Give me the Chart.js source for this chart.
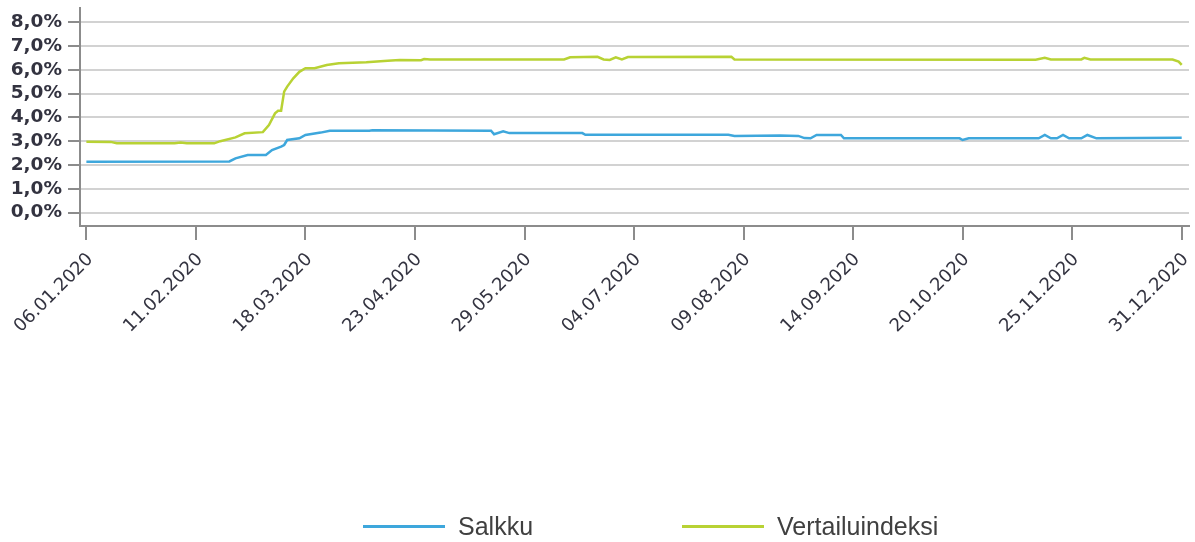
<!DOCTYPE html>
<html>
<head>
<meta charset="utf-8">
<script src="https://cdn.jsdelivr.net/npm/chart.js@4.4.0/dist/chart.umd.min.js"></script>
<style>
  body { margin: 0; background: #fff; }
  #wrap { position: relative; width: 1195px; height: 542px; }
  #legend { position: absolute; left: 363px; top: 512px; display: flex; align-items: center;
    font-family: "Liberation Sans", Arial, sans-serif; font-size: 25px; color: #404040; }
  .item { display: flex; align-items: center; margin-right: 149px; }
  .swatch { width: 82px; height: 3px; margin-right: 13px; }
</style>
</head>
<body>
<div id="wrap">
  <canvas id="myChart" width="1195" height="542"></canvas>
  <div id="legend"></div>
</div>
<script>
'use strict';

// days counted from 06.01.2020
let tick_days = [0, 36, 72, 108, 144, 180, 216, 252, 288, 324, 360];
let y_ticks = [0, 1, 2, 3, 4, 5, 6, 7, 8];

let salkku_days = [0, 47, 49, 53, 59, 61, 64, 65, 66, 70, 72, 77, 80, 93, 94, 133, 134, 137, 139, 163, 164,
  211, 213, 228, 234, 236, 238, 240, 248, 249, 287, 288, 290, 313, 315, 317, 319, 321, 323, 327, 329, 332, 360];
let salkku_values = [2.14, 2.15, 2.28, 2.42, 2.42, 2.63, 2.77, 2.84, 3.05, 3.12, 3.26, 3.36, 3.44, 3.44, 3.46, 3.44, 3.29, 3.41, 3.34, 3.34, 3.27,
  3.27, 3.22, 3.24, 3.22, 3.13, 3.12, 3.26, 3.26, 3.12, 3.12, 3.05, 3.12, 3.12, 3.26, 3.12, 3.12, 3.26, 3.12, 3.12, 3.26, 3.12, 3.14];

let vertailu_days = [0, 8, 10, 29, 31, 33, 42, 44, 49, 52, 58, 60, 62, 63, 64, 65, 66, 68, 70, 72, 75, 79, 83, 92, 99, 103,
  110, 111, 113, 157, 159, 168, 170, 172, 174, 176, 178, 212, 213, 312, 315, 317, 327, 328, 330, 357, 359, 360];
let vertailu_values = [2.98, 2.97, 2.91, 2.91, 2.94, 2.91, 2.91, 3.0, 3.16, 3.33, 3.38, 3.68, 4.17, 4.28, 4.28, 5.08, 5.29, 5.64, 5.91, 6.06, 6.06, 6.2, 6.27, 6.31, 6.38, 6.41,
  6.4, 6.45, 6.43, 6.43, 6.52, 6.54, 6.43, 6.41, 6.52, 6.43, 6.53, 6.54, 6.43, 6.42, 6.5, 6.43, 6.43, 6.5, 6.43, 6.43, 6.34, 6.2];

let series_names = ['Salkku', 'Vertailuindeksi'];
let series_colors = ['#3ea7dc', '#b8d234'];

function to_points(days, values) {
  let pts = [];
  for (let i = 0; i < days.length; i++) {
    pts.push({ x: days[i], y: values[i] });
  }
  return pts;
}

function day_label(d) {
  let dt = new Date(2020, 0, 6 + d);
  let dd = String(dt.getDate()).padStart(2, '0');
  let mm = String(dt.getMonth() + 1).padStart(2, '0');
  return dd + '.' + mm + '.' + dt.getFullYear();
}

let ctx = document.getElementById('myChart').getContext('2d');
let myChart = new Chart(ctx, {
  type: 'line',
  data: {
    datasets: [{
      label: series_names[0],
      data: to_points(salkku_days, salkku_values),
      borderColor: series_colors[0],
      borderWidth: 2.5,
      pointRadius: 0,
      tension: 0
    }, {
      label: series_names[1],
      data: to_points(vertailu_days, vertailu_values),
      borderColor: series_colors[1],
      borderWidth: 2.5,
      pointRadius: 0,
      tension: 0
    }]
  },
  options: {
    responsive: false,
    animation: false,
    layout: { padding: { top: 8, right: 6, left: 0, bottom: 0 } },
    plugins: { legend: { display: false }, tooltip: { enabled: false } },
    scales: {
      x: {
        type: 'linear',
        min: -2.1,
        max: 362.4,
        afterBuildTicks: function (scale) {
          scale.ticks = tick_days.map(function (v) { return { value: v }; });
        },
        afterFit: function (scale) {
          scale.height = 316;
          scale.paddingLeft = 0;
          scale.paddingRight = 0;
        },
        border: { color: '#8c8c8c', width: 2 },
        grid: { drawOnChartArea: false, drawTicks: true, tickLength: 14, tickColor: '#8c8c8c', lineWidth: 2 },
        ticks: {
          autoSkip: false,
          minRotation: 45,
          maxRotation: 45,
          padding: 9,
          labelOffset: 4,
          color: '#333340',
          font: { family: 'DejaVu Sans', size: 18 },
          callback: function (v) { return day_label(v); }
        }
      },
      y: {
        min: -0.56,
        max: 8.59,
        afterBuildTicks: function (scale) {
          scale.ticks = y_ticks.map(function (v) { return { value: v }; });
        },
        afterFit: function (scale) {
          scale.width = 80;
          scale.paddingTop = 0;
          scale.paddingBottom = 0;
        },
        border: { color: '#8c8c8c', width: 2 },
        grid: { color: '#d2d2d2', lineWidth: 2, tickLength: 12, tickColor: '#8c8c8c' },
        ticks: {
          padding: 6,
          color: '#333340',
          font: { family: 'DejaVu Sans', size: 18.5, weight: 'bold' },
          callback: function (v) { return v.toFixed(1).replace('.', ',') + '%'; }
        }
      }
    }
  }
});

// html legend
let legend = document.getElementById('legend');
for (let i = 0; i < series_names.length; i++) {
  let item = document.createElement('div');
  item.className = 'item';
  let sw = document.createElement('span');
  sw.className = 'swatch';
  sw.style.background = series_colors[i];
  let txt = document.createElement('span');
  txt.textContent = series_names[i];
  item.appendChild(sw);
  item.appendChild(txt);
  legend.appendChild(item);
}
</script>
</body>
</html>
